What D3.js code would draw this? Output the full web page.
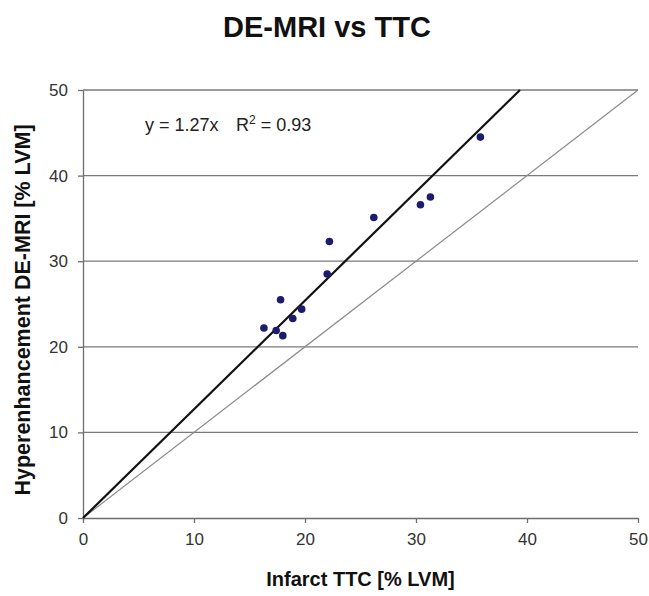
<!DOCTYPE html>
<html>
<head>
<meta charset="utf-8">
<script src="https://cdn.jsdelivr.net/npm/d3@7"></script>
<style>
  body { margin: 0; background: #fff; }
  text { font-family: Arial, "Liberation Sans", sans-serif; }
</style>
</head>
<body>
<script>
// infarct size by TTC vs hyperenhancement by DE-MRI (both % LVM)
var ttc   = [16.3, 17.4, 18.0, 18.9, 19.7, 17.8, 22.0, 22.2, 26.2, 30.4, 31.3, 35.8];
var demri = [22.2, 21.9, 21.3, 23.3, 24.4, 25.5, 28.5, 32.3, 35.1, 36.6, 37.5, 44.5];
var ticks = [0, 10, 20, 30, 40, 50];
var slope = 1.27;
var equation = "y = 1.27x";

var margin = {top: 90, right: 11, bottom: 78, left: 83},
    width = 649 - margin.left - margin.right,
    height = 596 - margin.top - margin.bottom;

var svg = d3.select("body")
  .append("svg")
    .attr("width", 649)
    .attr("height", 596);

var g = svg.append("g")
    .attr("transform", "translate(" + margin.left + "," + margin.top + ")");

var x = d3.scaleLinear().domain([0, 50]).range([0, width]);
var y = d3.scaleLinear().domain([0, 50]).range([height, 0]);

// horizontal gridlines
g.selectAll("line.grid")
  .data(ticks.slice(1))
  .enter()
  .append("line")
    .attr("class", "grid")
    .attr("x1", 0)
    .attr("x2", width)
    .attr("y1", function(d) { return y(d); })
    .attr("y2", function(d) { return y(d); })
    .attr("stroke", "#7a7a7a")
    .attr("stroke-width", 1.3);

// axes
var xAxis = g.append("g")
    .attr("transform", "translate(0," + height + ")")
    .call(d3.axisBottom(x).tickValues(ticks).tickSize(5).tickPadding(10).tickSizeOuter(0));
var yAxis = g.append("g")
    .call(d3.axisLeft(y).tickValues(ticks).tickSize(5).tickPadding(10).tickSizeOuter(0));

[xAxis, yAxis].forEach(function(a) {
  a.select(".domain").attr("stroke", "#6e6e6e").attr("stroke-width", 1.3);
  a.selectAll(".tick line").attr("stroke", "#6e6e6e").attr("stroke-width", 1.3);
  a.selectAll("text")
    .style("font-size", "17px")
    .style("font-family", "Arial, 'Liberation Sans', sans-serif")
    .attr("fill", "#333");
});

// identity line
g.append("line")
  .attr("x1", x(0)).attr("y1", y(0))
  .attr("x2", x(50)).attr("y2", y(50))
  .attr("stroke", "#8a8a8a")
  .attr("stroke-width", 1.2);

// regression line y = 1.27x
g.append("line")
  .attr("x1", x(0)).attr("y1", y(0))
  .attr("x2", x(50 / slope)).attr("y2", y(50))
  .attr("stroke", "#111")
  .attr("stroke-width", 2.2);

// points
g.selectAll("circle")
  .data(ttc)
  .enter()
  .append("circle")
    .attr("cx", function(d) { return x(d); })
    .attr("cy", function(d, i) { return y(demri[i]); })
    .attr("r", 3.8)
    .attr("fill", "#1c1c6e");

// equation label
g.append("text")
  .attr("x", 62)
  .attr("y", 41)
  .style("font-size", "18px")
  .attr("fill", "#222")
  .text(equation);
var r2 = g.append("text")
  .attr("x", 153)
  .attr("y", 41)
  .style("font-size", "18px")
  .attr("fill", "#222");
r2.append("tspan").text("R");
r2.append("tspan").text("2").attr("dy", -7).style("font-size", "12px");
r2.append("tspan").text(" = 0.93").attr("dy", 7);

// title
svg.append("text")
  .attr("x", 327)
  .attr("y", 37)
  .attr("text-anchor", "middle")
  .style("font-size", "29px")
  .style("font-weight", "bold")
  .attr("fill", "#111")
  .text("DE-MRI vs TTC");

// axis titles
svg.append("text")
  .attr("x", margin.left + width / 2)
  .attr("y", 586)
  .attr("text-anchor", "middle")
  .style("font-size", "20px")
  .style("font-weight", "bold")
  .attr("fill", "#111")
  .text("Infarct TTC [% LVM]");

svg.append("text")
  .attr("transform", "translate(30," + (margin.top + height / 2 + 6) + ")rotate(-90)")
  .attr("text-anchor", "middle")
  .style("font-size", "21.5px")
  .style("font-weight", "bold")
  .attr("fill", "#111")
  .text("Hyperenhancement DE-MRI [% LVM]");
</script>
</body>
</html>
